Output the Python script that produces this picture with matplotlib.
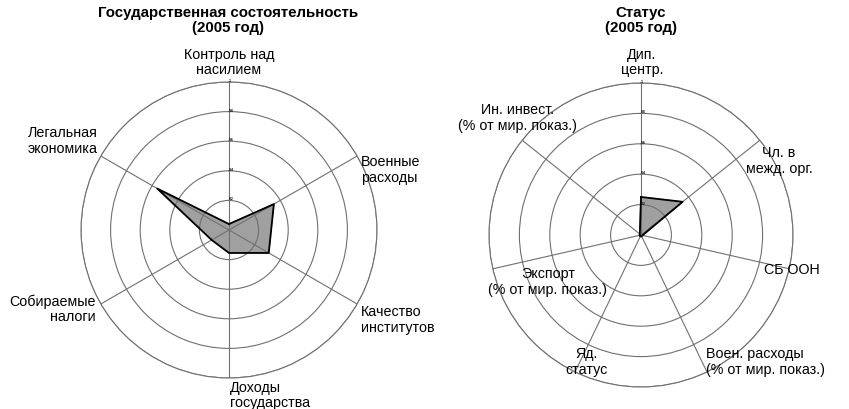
import numpy as np
import matplotlib.pyplot as plt

plt.rcParams['font.family'] = ['Liberation Sans', 'DejaVu Sans']

# Left chart: state capacity (2005)
cap_axes = ['Контроль над\nнасилием', 'Военные\nрасходы', 'Качество\nинститутов',
            'Доходы\nгосударства', 'Собираемые\nналоги', 'Легальная\nэкономика']
cap_values = [0.04, 0.35, 0.31, 0.155, 0.135, 0.56]

# Right chart: status (2005)
status_axes = ['Дип.\nцентр.', 'Чл. в\nмежд. орг.', 'СБ ООН',
               'Воен. расходы\n(% от мир. показ.)', 'Яд.\nстатус',
               'Экспорт\n(% от мир. показ.)', 'Ин. инвест.\n(% от мир. показ.)']
status_values = [0.25, 0.35, 0.01, 0.01, 0.01, 0.01, 0.01]

ring_ticks = [0.2, 0.4, 0.6, 0.8, 1.0]
ring_labels = ['0.2', '0.4', '0.6', '0.8', '1']

W, H = 849, 410
fig = plt.figure(figsize=(W / 100, H / 100), dpi=100)


def px_axes(cx, cy, r):
    return fig.add_axes([(cx - r) / W, (H - cy - r) / H, 2 * r / W, 2 * r / H],
                        projection='polar')


def radar(ax, values, title, label_pos):
    n = len(values)
    theta = np.arange(n) * 2 * np.pi / n
    ax.set_theta_offset(np.pi / 2)
    ax.set_theta_direction(-1)
    ax.set_ylim(0, 1)
    ax.fill(np.append(theta, theta[0]), np.append(values, values[0]),
            color='#a0a0a0', zorder=1)
    ax.plot(np.append(theta, theta[0]), np.append(values, values[0]),
            color='black', lw=1.3, zorder=3)
    ax.set_xticks(theta)
    ax.set_xticklabels([])
    ax.set_rgrids(ring_ticks, ring_labels, angle=0, fontsize=2.5,
                  fontweight='bold')
    ax.set_rlabel_position(0)
    ax.grid(color='#707070', lw=0.8, zorder=2)
    ax.set_axisbelow(False)
    ax.spines['polar'].set_color('#707070')
    ax.spines['polar'].set_linewidth(0.8)
    for (x, y, ha, va), txt in label_pos:
        fig.text(x / W, 1 - y / H, txt, ha=ha, va=va, fontsize=10.3,
                 linespacing=1.1, multialignment=ha)
    fig.text(title[1] / W, 1 - title[2] / H, title[0], ha='center', va='top',
             fontsize=10.8, fontweight='bold', linespacing=1.05)


ax1 = px_axes(229, 231, 148)
left_pos = [(229, 77, 'center', 'bottom'),
            (361, 170, 'left', 'center'),
            (361, 320, 'left', 'center'),
            (230, 381, 'left', 'top'),
            (96, 309, 'right', 'center'),
            (98, 141, 'right', 'center')]
radar(ax1, cap_values, ('Государственная состоятельность\n(2005 год)', 228, 6),
      list(zip(left_pos, cap_axes)))

ax2 = px_axes(641, 236, 152)
right_pos = [(642, 77, 'center', 'bottom'),
             (779, 161, 'center', 'center'),
             (764, 270, 'left', 'center'),
             (706, 362, 'left', 'center'),
             (587, 362, 'center', 'center'),
             (548, 282, 'center', 'center'),
             (518, 118, 'center', 'center')]
radar(ax2, status_values, ('Статус\n(2005 год)', 641, 6),
      list(zip(right_pos, status_axes)))

fig.savefig('out.png', dpi=100)
